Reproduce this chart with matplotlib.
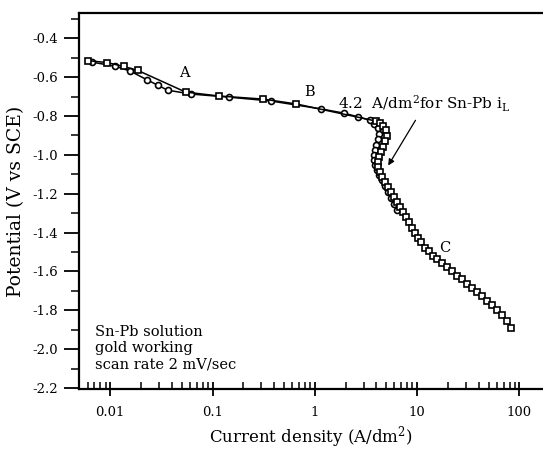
import numpy as np
import matplotlib
matplotlib.use("Agg")
import matplotlib.pyplot as plt
from matplotlib.ticker import LogLocator, MultipleLocator, FixedFormatter, FixedLocator

plt.rcParams['font.family'] = 'DejaVu Serif'
plt.rcParams['mathtext.fontset'] = 'dejavuserif'
plt.rcParams['axes.unicode_minus'] = False

# polarization scan, square markers (A/dm2, V vs SCE)
sq_i = [0.0060, 0.0093, 0.0135, 0.0185, 0.0546, 0.115, 0.312, 0.658,
        3.94, 4.31, 4.61, 4.93, 5.05, 4.82, 4.61, 4.40, 4.21, 4.11, 4.11,
        4.31, 4.51, 4.82, 5.16, 5.52, 5.91, 6.32, 6.76, 7.24, 7.75, 8.29,
        8.87, 9.50, 10.2, 10.9, 11.9, 13.0, 14.3, 15.6, 17.5, 19.6, 22.0,
        24.6, 27.5, 30.8, 34.5, 38.7, 43.3, 48.5, 54.3, 60.8, 68.1, 76.3, 83.4]
sq_v = [-0.515, -0.525, -0.545, -0.565, -0.677, -0.697, -0.713, -0.738,
        -0.826, -0.836, -0.851, -0.872, -0.903, -0.928, -0.959, -0.985, -1.010, -1.036, -1.062,
        -1.087, -1.113, -1.138, -1.164, -1.190, -1.215, -1.241, -1.267, -1.292, -1.318, -1.344,
        -1.374, -1.400, -1.426, -1.451, -1.477, -1.497, -1.518, -1.538, -1.559, -1.579, -1.600,
        -1.621, -1.641, -1.667, -1.687, -1.708, -1.728, -1.754, -1.774, -1.800, -1.826, -1.856, -1.892]

# polarization scan, circle markers
ci_i = [0.00665, 0.0112, 0.0157, 0.0231, 0.0290, 0.0363, 0.0611, 0.144,
        0.373, 1.16, 1.91, 2.67, 3.43, 3.76, 4.11, 4.21, 4.11, 3.94, 3.85,
        3.76, 3.76, 3.85, 4.02, 4.21, 4.51, 4.82, 5.16, 5.52, 5.91, 6.32]
ci_v = [-0.523, -0.544, -0.569, -0.615, -0.641, -0.667, -0.687, -0.703,
        -0.723, -0.764, -0.785, -0.805, -0.821, -0.841, -0.862, -0.892, -0.918, -0.949, -0.974,
        -1.000, -1.026, -1.051, -1.077, -1.103, -1.128, -1.159, -1.190, -1.221, -1.251, -1.282]

x_ticks = [0.01, 0.1, 1, 10, 100]
x_tick_labels = ['0.01', '0.1', '1', '10', '100']
y_ticks = [-0.4, -0.6, -0.8, -1.0, -1.2, -1.4, -1.6, -1.8, -2.0, -2.2]

fig = plt.figure(figsize=(5.43, 4.53), dpi=100)
ax = fig.add_axes([0.1455, 0.1413, 0.8545, 0.830])

mk = dict(color='black', lw=1.1, mfc='white', mec='black', mew=1.2, ms=4.3)
ax.plot(ci_i, ci_v, marker='o', **mk)
ax.plot(sq_i, sq_v, marker='s', **mk)

ax.set_xscale('log')
ax.set_xlim(0.00495, 170)
ax.set_ylim(-2.205, -0.27)

ax.xaxis.set_major_locator(FixedLocator(x_ticks))
ax.xaxis.set_major_formatter(FixedFormatter(x_tick_labels))
ax.xaxis.set_minor_locator(LogLocator(base=10, subs=np.arange(2, 10)))
ax.yaxis.set_major_locator(FixedLocator(y_ticks))
ax.yaxis.set_minor_locator(MultipleLocator(0.1))
ax.set_yticklabels([f'{t:.1f}' for t in y_ticks])

ax.tick_params(axis='y', which='major', direction='out', length=11, width=1.3, pad=4, labelsize=9.5)
ax.tick_params(axis='y', which='minor', direction='out', length=6, width=1.1)
ax.tick_params(axis='x', which='major', direction='inout', length=10, width=1.3, pad=7, labelsize=9.5)
ax.tick_params(axis='x', which='minor', direction='in', length=5, width=1.1)

for s in ['left', 'bottom', 'top']:
    ax.spines[s].set_linewidth(1.6)
ax.spines['right'].set_visible(False)

ax.set_xlabel(r'Current density (A/dm$^2$)', fontsize=12, labelpad=4)
ax.set_ylabel('Potential (V vs SCE)', fontsize=13.5, labelpad=5)

ax.text(0.0533, -0.579, 'A', fontsize=10.5, ha='center', va='center')
ax.text(0.883, -0.677, 'B', fontsize=10.5, ha='center', va='center')
ax.text(18.7, -1.477, 'C', fontsize=10.5, ha='center', va='center')
ax.text(1.70, -0.738, r'4.2  A/dm$^2$for Sn-Pb i$_\mathrm{L}$', fontsize=11,
        ha='left', va='center')
ax.annotate('', xy=(5.05, -1.067), xytext=(9.95, -0.81),
            arrowprops=dict(arrowstyle='-|>', color='black', lw=0.9,
                            mutation_scale=9))

ax.text(0.0345, 0.17, 'Sn-Pb solution\ngold working\nscan rate 2 mV/sec',
        transform=ax.transAxes, fontsize=10.5, ha='left', va='top', linespacing=1.2)

fig.savefig('out.png', dpi=100)
